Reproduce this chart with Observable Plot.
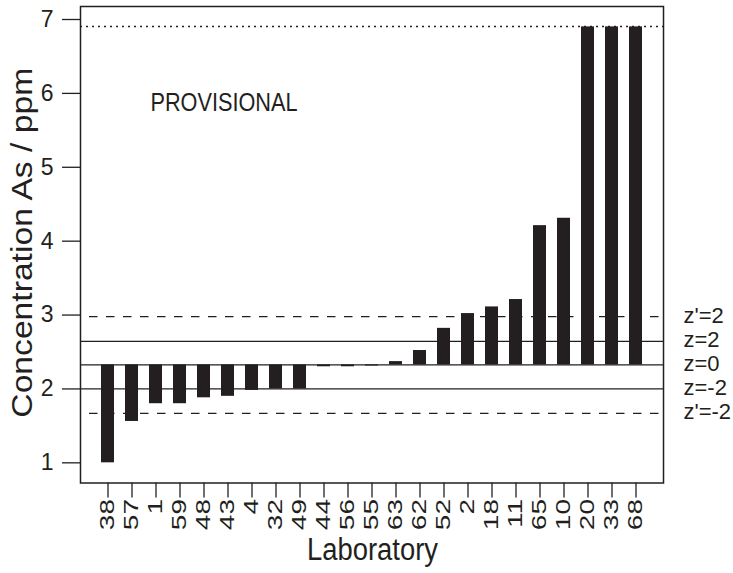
<!DOCTYPE html>
<html>
<head>
<meta charset="utf-8">
<script src="https://cdn.jsdelivr.net/npm/d3@7"></script>
<script src="https://cdn.jsdelivr.net/npm/@observablehq/plot@0.6"></script>
<style>
  html, body { margin: 0; padding: 0; background: #fff; }
  #chart svg { display: block; }
</style>
</head>
<body>
<div id="chart"></div>
<script>
// Laboratories, in plotted order
const labs = ["38","57","1","59","48","43","4","32","49","44","56","55","63","62","52","2","18","11","65","10","20","33","68"];
// Reported As concentration (ppm); values above the plotting limit are shown at the limit
const values = [1.00,1.56,1.80,1.80,1.88,1.90,1.98,2.00,2.00,2.30,2.30,2.31,2.37,2.52,2.82,3.02,3.11,3.21,4.21,4.31,6.9,6.9,6.9];
// Assigned value (z = 0)
const assigned = 2.325;
// Reference lines
const refLabels = ["z'=2","z=2","z=0","z=-2","z'=-2"];
const refValues = [2.98, 2.645, 2.325, 2.00, 1.67];
const refDashed = [true, false, false, false, true];
// Plotting limit (dotted line)
const limit = 6.905;
const yTicks = [1,2,3,4,5,6,7];

const data = labs.map((lab, i) => ({lab, value: values[i]}));
const refs = refLabels.map((label, i) => ({label, value: refValues[i], dashed: refDashed[i]}));

const ink = "#231f20";
const chart = Plot.plot({
  width: 733,
  height: 573,
  marginLeft: 80,
  marginRight: 70,
  marginTop: 6,
  marginBottom: 90.5,
  style: {fontFamily: "'Liberation Sans', Arial, sans-serif", color: ink, background: "#fff"},
  x: {domain: labs, paddingInner: 0.45, paddingOuter: 0.65},
  y: {domain: [0.727, 7.176]},
  marks: [
    Plot.barY(data, {x: "lab", y1: assigned, y2: "value", fill: ink}),
    Plot.ruleY(refs.filter(d => !d.dashed), {y: "value", stroke: ink, strokeWidth: 1.3}),
    Plot.ruleY(refs.filter(d => d.dashed), {y: "value", stroke: ink, strokeWidth: 1.3, strokeDasharray: "8.5,8.5", strokeDashoffset: 8}),
    Plot.ruleY([limit], {stroke: ink, strokeWidth: 1.3, strokeDasharray: "2,4"}),
    Plot.frame({stroke: ink, strokeWidth: 1.5}),
    Plot.axisY({ticks: yTicks, tickFormat: d => String(d), tickSize: 18, tickPadding: 9, fontSize: 23, label: null, strokeWidth: 1.3}),
    Plot.axisX({tickSize: 15, tickPadding: 1, tickRotate: -90, fontSize: 20, label: null, strokeWidth: 1.3}),
    Plot.text(refs, {y: "value", text: "label", frameAnchor: "right", dx: 20, dy: -1, textAnchor: "start", fontSize: 22, fill: ink}),
    Plot.text(["Concentration As / ppm"], {frameAnchor: "left", dx: -58, dy: -2, rotate: -90, textAnchor: "middle", fontSize: 30, fill: ink, lineAnchor: "middle"}),
    Plot.text(["Laboratory"], {frameAnchor: "bottom", dx: 0.5, dy: 76.5, lineAnchor: "bottom", fontSize: 31, fill: ink, fontFamily: "'Liberation Sans Narrow', 'Liberation Sans', sans-serif"}),
    Plot.text(["PROVISIONAL"], {frameAnchor: "top-left", dx: 70, dy: 104, lineAnchor: "bottom", textAnchor: "start", fontSize: 25.5, fill: ink, fontFamily: "'Liberation Sans Narrow', 'Liberation Sans', sans-serif"})
  ]
});
document.getElementById("chart").appendChild(chart);

// Typographic adjustments to match the reference's stretched lettering
const svg = d3.select(chart);
svg.selectAll("g[aria-label='x-axis tick label'] text").each(function() {
  const t = this.getAttribute("transform") || "";
  this.setAttribute("transform", t + " scale(1.4,1)");
});
svg.selectAll("text").each(function() {
  const s = this.textContent;
  if (s === "Concentration As / ppm") {
    const w = this.getComputedTextLength();
    const t = this.getAttribute("transform") || "";
    this.setAttribute("transform", t + ` scale(${350 / w},1)`);
  }
  if (s === "Laboratory") { this.setAttribute("textLength", 131); this.setAttribute("lengthAdjust", "spacingAndGlyphs"); }
  if (s === "PROVISIONAL") { this.setAttribute("textLength", 147); this.setAttribute("lengthAdjust", "spacingAndGlyphs"); }
});
</script>
</body>
</html>
